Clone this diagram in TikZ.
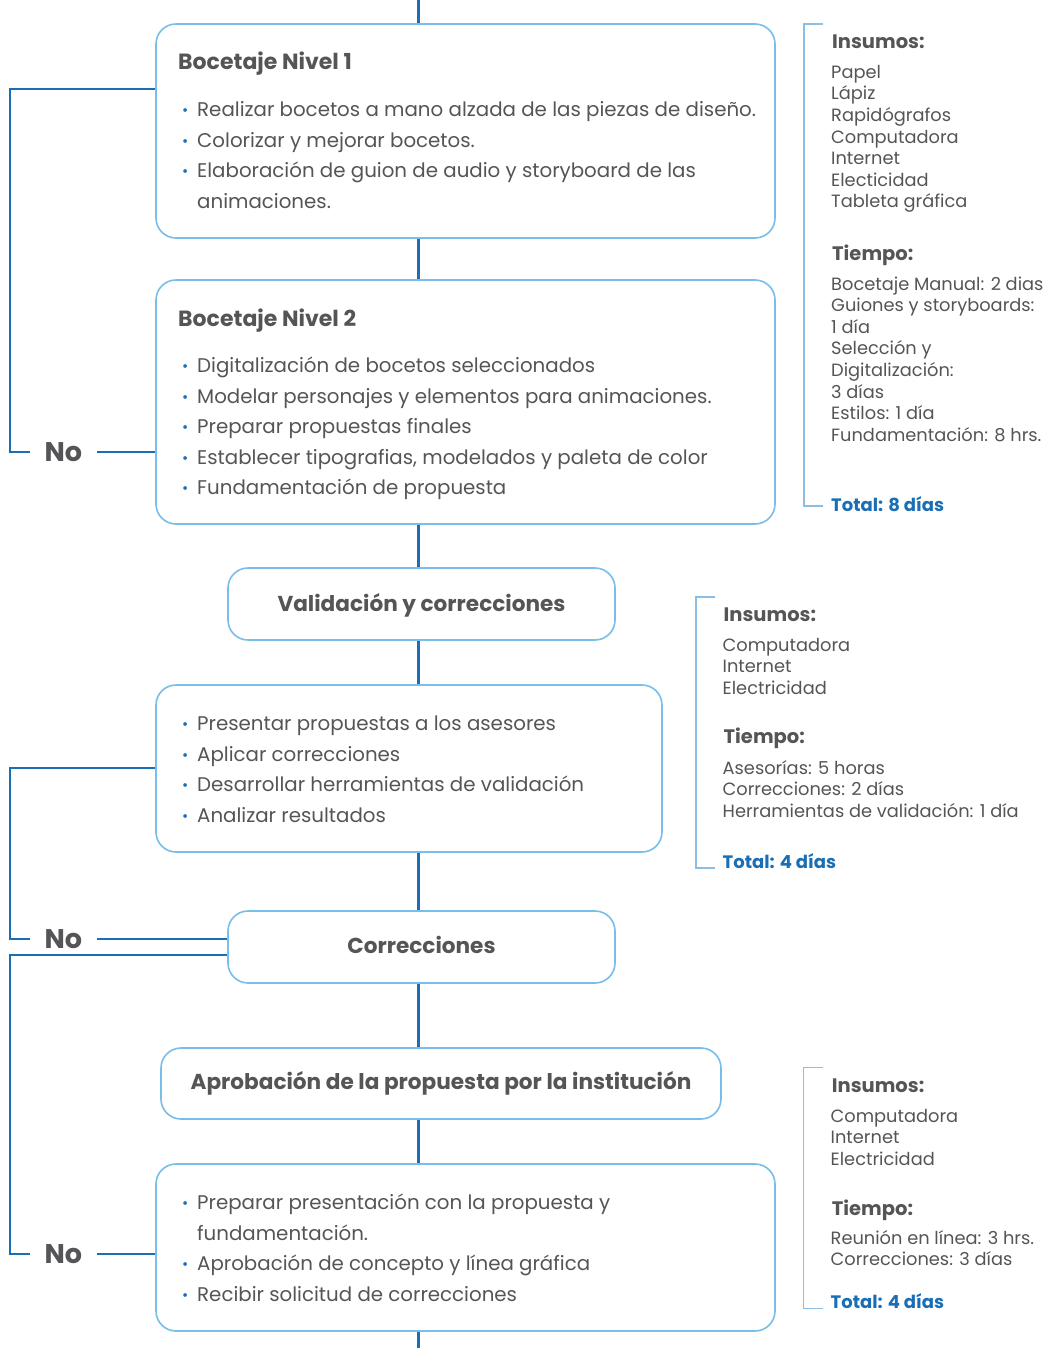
\documentclass[tikz,border=0pt]{standalone}
\usepackage{fontspec}
\setmainfont{Poppins}
\definecolor{dblue}{RGB}{26,110,181}
\definecolor{lblue}{RGB}{120,190,235}
\definecolor{bblue}{RGB}{140,190,228}
\definecolor{tgrey}{RGB}{85,85,88}
\newcommand{\bul}{\makebox[14pt][l]{\hspace*{-1pt}\textcolor{dblue}{\raisebox{1pt}{\fontsize{15}{15}\selectfont •}}}}
\newcommand{\ind}{\hspace*{14pt}}
\begin{document}
\begin{tikzpicture}[x=1pt,y=-1pt,
  box/.style={draw=lblue, line width=1.6pt, rounded corners=20pt, fill=white, inner sep=0pt},
  mainline/.style={draw=dblue, line width=3.3pt},
  loopline/.style={draw=dblue, line width=2pt},
  brk/.style={draw=bblue, line width=1.6pt},
  txt/.style={anchor=base west, inner sep=0pt, text=tgrey, align=left, font=\fontsize{19.8}{30.6}\selectfont},
  ttl/.style={anchor=base west, inner sep=0pt, text=tgrey, font=\bfseries\fontsize{22}{24}\selectfont},
  ctitle/.style={anchor=base, inner sep=0pt, text=tgrey, font=\bfseries\fontsize{21.6}{24}\selectfont},
  side/.style={anchor=base west, inner sep=0pt, text=tgrey, align=left, font=\fontsize{17.8}{21.6}\selectfont},
  sideh/.style={anchor=base west, inner sep=0pt, text=tgrey, font=\bfseries\fontsize{19.5}{21}\selectfont},
  tot/.style={anchor=base west, inner sep=0pt, text=dblue, font=\bfseries\fontsize{18}{21}\selectfont},
  nolab/.style={inner sep=0pt, text=tgrey, font=\bfseries\fontsize{27}{27}\selectfont, text height=19pt, text depth=0pt, minimum width=66.7pt}
]
\useasboundingbox (0,0) rectangle (1055,1348);
\fill[white] (0,0) rectangle (1055,1348);

% boxes
\node[box, minimum width=619pt, minimum height=214pt] (b1) at (465.5,131) {};
\node[box, minimum width=619pt, minimum height=244pt] (b2) at (465.5,402) {};
\node[box, minimum width=387pt, minimum height=72pt] (val) at (421.5,604) {};
\node[box, minimum width=506pt, minimum height=167pt] (lb) at (409,768.5) {};
\node[box, minimum width=387pt, minimum height=72pt] (corr) at (421.5,947) {};
\node[box, minimum width=560pt, minimum height=71pt] (apr) at (441,1083.5) {};
\node[box, minimum width=619pt, minimum height=167pt] (b7) at (465.5,1247.5) {};

% main line
\coordinate (top) at (418.3,0);
\coordinate (bot) at (418.3,1348);
\draw[mainline] (top) -- (top |- b1.north);
\draw[mainline] (b1.south -| top) -- (b2.north -| top);
\draw[mainline] (b2.south -| top) -- (val.north -| top);
\draw[mainline] (val.south -| top) -- (lb.north -| top);
\draw[mainline] (lb.south -| top) -- (corr.north -| top);
\draw[mainline] (corr.south -| top) -- (apr.north -| top);
\draw[mainline] (apr.south -| top) -- (b7.north -| top);
\draw[mainline] (b7.south -| top) -- (bot);

% No labels and loops
\node[nolab] (no1) at (63.3,452) {No};
\node[nolab] (no2) at (63.3,938.5) {No};
\node[nolab] (no3) at (63.3,1254) {No};
\coordinate (l1) at (10,89);
\coordinate (l2) at (10,768);
\coordinate (l3) at (10,955);
\draw[loopline] (b1.west |- l1) -- (l1) |- (no1.west);
\draw[loopline] (no1.east) -- (no1.east -| b2.west);
\draw[loopline] (lb.west |- l2) -- (l2) |- (no2.west);
\draw[loopline] (no2.east) -- (no2.east -| corr.west);
\draw[loopline] (corr.west |- l3) -- (l3) |- (no3.west);
\draw[loopline] (no3.east) -- (no3.east -| b7.west);

% box texts (anchor = baseline of last line)
\node[ttl] (t1) at (178,70) {Bocetaje Nivel 1};
\node[txt] (x1) at (183,208.3) {\bul Realizar bocetos a mano alzada de las piezas de diseño.\\
\bul Colorizar y mejorar bocetos.\\
\bul Elaboración de guion de audio y storyboard de las\\
\ind animaciones.};
\node[ttl] (t2) at (178,326) {Bocetaje Nivel 2};
\node[txt] (x2) at (183,494.9) {\bul Digitalización de bocetos seleccionados\\
\bul Modelar personajes y elementos para animaciones.\\
\bul Preparar propuestas finales\\
\bul Establecer tipografias, modelados y paleta de color\\
\bul Fundamentación de propuesta};
\node[ctitle] (tv) at (421.5,611) {Validación y correcciones};
\node[txt] (x3) at (183,822.3) {\bul Presentar propuestas a los asesores\\
\bul Aplicar correcciones\\
\bul Desarrollar herramientas de validación\\
\bul Analizar resultados};
\node[ctitle] (tc) at (421.5,953.5) {Correcciones};
\node[ctitle] (ta) at (441,1089) {Aprobación de la propuesta por la institución};
\node[txt] (x4) at (183,1301.3) {\bul Preparar presentación con la propuesta y\\
\ind fundamentación.\\
\bul Aprobación de concepto y línea gráfica\\
\bul Recibir solicitud de correcciones};

% side panel 1
\draw[brk] (823.3,24) -- (804,24) -- (804,506) -- (823.3,506);
\node[sideh] (s1h) at (832,48.3) {Insumos:};
\node[side] (s1a) at (831,207.9) {Papel\\Lápiz\\Rapidógrafos\\Computadora\\Internet\\Electicidad\\Tableta gráfica};
\node[sideh] (s1t) at (832,260.7) {Tiempo:};
\node[side] (s1b) at (831,441.2) {Bocetaje Manual: 2 dias\\Guiones y storyboards:\\1 día\\Selección y\\Digitalización:\\3 días\\Estilos: 1 día\\Fundamentación: 8 hrs.};
\node[tot] (s1o) at (831,511.7) {Total: 8 días};

% side panel 2
\draw[brk] (715,596.7) -- (695.7,596.7) -- (695.7,867.7) -- (715,867.7);
\node[sideh] (s2h) at (723.5,621.7) {Insumos:};
\node[side] (s2a) at (722.5,694.2) {Computadora\\Internet\\Electricidad};
\node[sideh] (s2t) at (723.5,743.3) {Tiempo:};
\node[side] (s2b) at (722.5,817.5) {Asesorías: 5 horas\\Correcciones: 2 días\\Herramientas de validación: 1 día};
\node[tot] (s2o) at (722.5,868.3) {Total: 4 días};

% side panel 3
\draw[brk] (822.7,1067.3) -- (803.3,1067.3) -- (803.3,1308.3) -- (822.7,1308.3);
\node[sideh] (s3h) at (831.7,1092.3) {Insumos:};
\node[side] (s3a) at (830.5,1165.5) {Computadora\\Internet\\Electricidad};
\node[sideh] (s3t) at (831.7,1215) {Tiempo:};
\node[side] (s3b) at (830.5,1265.9) {Reunión en línea: 3 hrs.\\Correcciones: 3 días};
\node[tot] (s3o) at (830.5,1308.3) {Total: 4 días};
\end{tikzpicture}
\end{document}
